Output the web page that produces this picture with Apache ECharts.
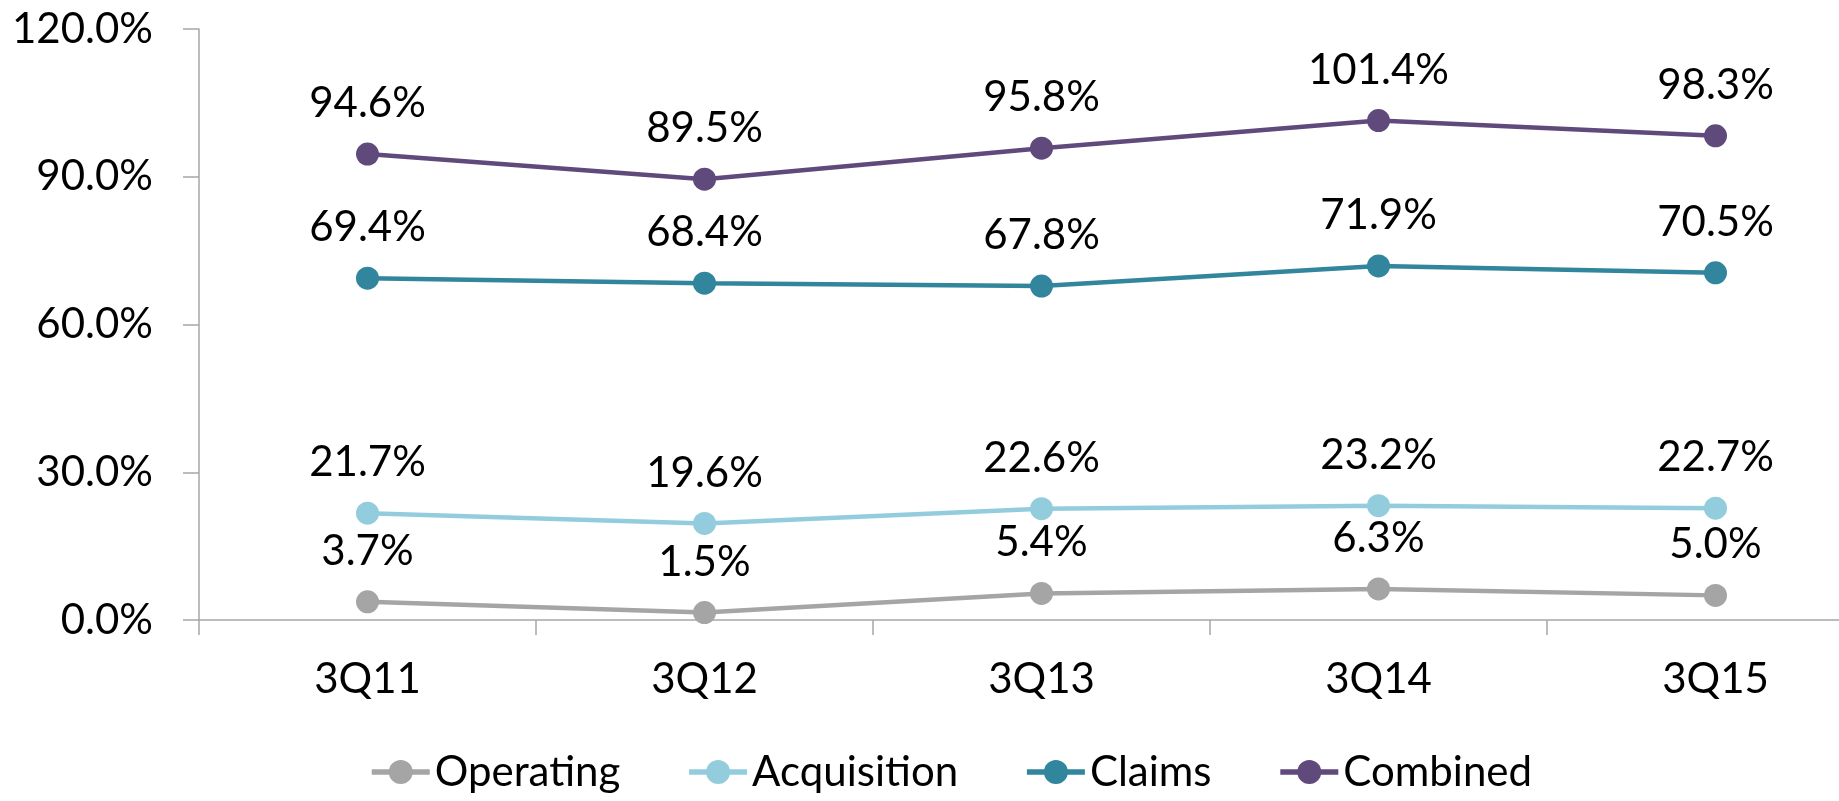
<!DOCTYPE html>
<html style="height: 100%">
<head>
<meta charset="utf-8">
<script src="https://cdn.jsdelivr.net/npm/echarts@6/dist/echarts.min.js"></script>
</head>
<body style="height: 100%; margin: 0; background: #fff">
<div id="container" style="width: 1839px; height: 801px"></div>
<script type="text/javascript">
// ------ data ------
var quarters = ['3Q11', '3Q12', '3Q13', '3Q14', '3Q15'];
var operating = [3.7, 1.5, 5.4, 6.3, 5.0];
var acquisition = [21.7, 19.6, 22.6, 23.2, 22.7];
var claims = [69.4, 68.4, 67.8, 71.9, 70.5];
var combined = [94.6, 89.5, 95.8, 101.4, 98.3];

var seriesNames = ['Operating', 'Acquisition', 'Claims', 'Combined'];
var seriesColors = ['#a5a5a5', '#93cddd', '#31859c', '#604a7b'];
var seriesData = [operating, acquisition, claims, combined];

var FONT = 'Lato';
var chart = echarts.init(document.getElementById('container'));

function makeSeries(i) {
	return {
		name: seriesNames[i],
		type: 'line',
		data: seriesData[i],
		symbol: 'circle',
		symbolSize: 23,
		itemStyle: { color: seriesColors[i] },
		lineStyle: { color: seriesColors[i], width: 4.5 },
		label: {
			show: true,
			position: 'top',
			distance: 18,
			color: '#000',
			fontFamily: FONT,
			fontSize: 42,
			formatter: function (p) { return p.value.toFixed(1) + '%'; }
		},
		animation: false
	};
}

var option = {
	backgroundColor: '#fff',
	// the source chart is cut off on the right, so the plot runs past the edge
	grid: { left: 199, top: 29, width: 1685, bottom: 181, outerBoundsMode: 'none', containLabel: false },
	legend: {
		data: seriesNames,
		left: 364,
		top: 746,
		itemWidth: 58,
		itemHeight: 30,
		itemGap: 66,
		lineStyle: { width: 5.5 },
		textStyle: { fontFamily: FONT, fontSize: 42, color: '#000' }
	},
	xAxis: {
		type: 'category',
		data: quarters,
		axisLine: { lineStyle: { color: '#a6a6a6', width: 1.5 } },
		axisTick: { show: true, length: 15, lineStyle: { color: '#a6a6a6', width: 1.5 } },
		axisLabel: { margin: 38, color: '#000', fontFamily: FONT, fontSize: 42 },
		splitLine: { show: false }
	},
	yAxis: {
		type: 'value',
		min: 0,
		max: 120,
		interval: 30,
		axisLine: { show: true, lineStyle: { color: '#a6a6a6', width: 1.5 } },
		axisTick: { show: true, length: 16, lineStyle: { color: '#a6a6a6', width: 1.5 } },
		axisLabel: {
			margin: 46,
			color: '#000',
			fontFamily: FONT,
			fontSize: 42,
			formatter: function (v) { return v.toFixed(1) + '%'; }
		},
		splitLine: { show: false }
	},
	series: [makeSeries(0), makeSeries(1), makeSeries(2), makeSeries(3)]
};

chart.setOption(option);
</script>
</body>
</html>
